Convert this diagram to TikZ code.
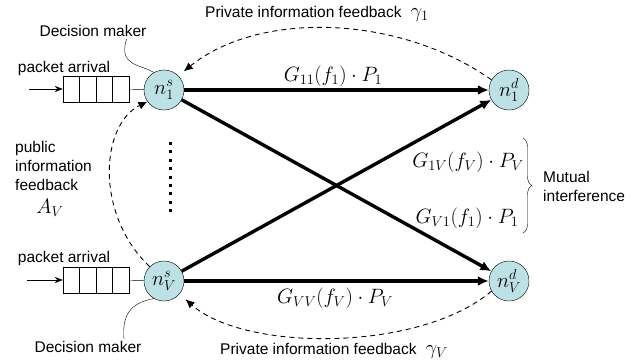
\documentclass[tikz,border=0pt]{standalone}
\usepackage{fontspec}
\setmainfont{Liberation Sans}
\usetikzlibrary{arrows.meta,decorations.pathreplacing}
\definecolor{nodecyan}{RGB}{189,225,228}
\newcommand{\txtsz}{\fontsize{15.5}{19}\selectfont}
\newcommand{\mathsz}{\fontsize{20}{22}\selectfont}
\begin{document}
\begin{tikzpicture}[x=1pt, y=-1pt,
        station/.style={circle, draw, fill=nodecyan, minimum size=40pt, inner sep=0pt, font=\mathsz},
        queue/.style={draw, minimum width=66pt, minimum height=26pt, inner sep=0pt},
        txt/.style={font=\txtsz, inner sep=0pt},
        mth/.style={font=\mathsz, inner sep=0pt},
        link/.style={line width=3.4pt, -{Latex[length=11pt,width=10pt]}},
        feedback/.style={line width=0.9pt, dash pattern=on 5pt off 4pt, -{Latex[length=9pt,width=8pt]}}]

        \useasboundingbox (0,0) rectangle (644,362);

        \node[station] (n1s) at (164, 90) {$n_1^s$};
        \node[station] (nVs) at (164, 281) {$n_V^s$};
        \node[station] (n1d) at (509, 90) {$n_1^d$};
        \node[station] (nVd) at (509, 281) {$n_V^d$};

        \node[queue] (q1) at (96, 89) {};
        \node[queue] (qV) at (96, 280) {};
        \foreach \i in {1,2,3} {
            \draw ([xshift=\i*16.5pt]q1.north west) -- ([xshift=\i*16.5pt]q1.south west);
            \draw ([xshift=\i*16.5pt]qV.north west) -- ([xshift=\i*16.5pt]qV.south west);
        }
        \coordinate (in1) at (29, 89);
        \coordinate (inV) at (27, 280);
        \draw[-{Stealth[length=8pt,width=6pt]}] (in1) -- (q1);
        \draw[-{Stealth[length=8pt,width=6pt]}] (inV) -- (qV);
        \draw (q1) -- (n1s);
        \draw (qV) -- (nVs);
        \node[txt] (pa1) at (64, 68) {packet arrival};
        \node[txt] (paV) at (64, 258) {packet arrival};

        \draw[link] (n1s) -- (n1d);
        \draw[link] (n1s) -- (nVd);
        \draw[link] (nVs) -- (n1d);
        \draw[link] (nVs) -- (nVd);
        \node[mth] (g11) at (333, 76) {$G_{11}(f_1)\cdot P_1$};
        \node[mth] (g1V) at (468, 162) {$G_{1V}(f_V)\cdot P_V$};
        \node[mth] (gV1) at (467, 218) {$G_{V1}(f_1)\cdot P_1$};
        \node[mth] (gVV) at (335, 298) {$G_{VV}(f_V)\cdot P_V$};

        \draw[decorate, decoration={brace, amplitude=9pt}] (523, 138) -- (523, 233);
        \node[txt, anchor=west, align=left] (mi) at (543, 186) {Mutual\\interference};

        \draw[line width=3pt, dash pattern=on 3pt off 5.4pt] (170, 142) -- (170, 212);

        \node[txt] (dm1) at (93, 31) {Decision maker};
        \node[txt] (dmV) at (88, 347) {Decision maker};
        \draw ([xshift=-20pt,yshift=-2pt]dm1.south east) .. controls (118, 66) and (140, 64) .. (n1s.120);
        \draw (nVs.240) .. controls (130, 303) and (122, 315) .. ([xshift=36pt,yshift=2pt]dmV.north);

        \draw[feedback, shorten >=7pt] (n1d.150) .. controls (400, 15) and (260, 10) .. (n1s.45);
        \node[txt, anchor=west] (pf1) at (205, 14) {Private information feedback\hspace{9pt}\mathsz$\gamma_1$};
        \draw[feedback, shorten >=8pt] (nVd.210) .. controls (420, 352) and (245, 352) .. (nVs.-40);
        \node[txt, anchor=west] (pfV) at (220, 351) {Private information feedback\hspace{9pt}\mathsz$\gamma_V$};
        \draw[feedback] (nVs.135) .. controls (95, 215) and (100, 125) .. (n1s.215);
        \node[txt, anchor=north west, align=left] (pub) at (15, 141) {public\\information\\feedback};
        \node[mth] (av) at (50, 208) {$A_V$};

\end{tikzpicture}
\end{document}
